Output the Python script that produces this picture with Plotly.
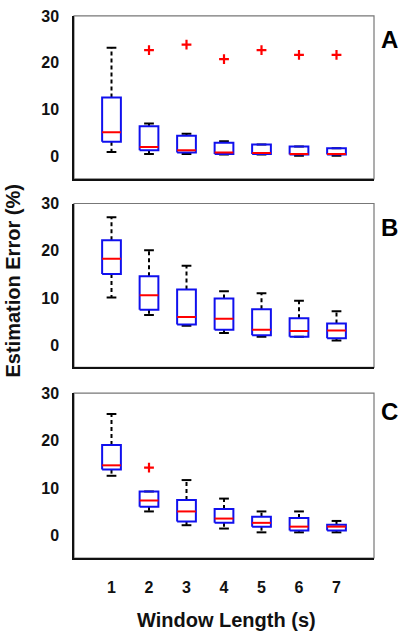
import plotly.graph_objects as go

# ---------------- data ----------------
window_length = [1, 2, 3, 4, 5, 6, 7]
x_tick_labels = ["1", "2", "3", "4", "5", "6", "7"]
y_ticks = [0, 10, 20, 30]
panel_labels = ["A", "B", "C"]

# Panel A
a_lower = [1.0, 0.6, 0.6, 0.5, 0.5, 0.2, 0.2]
a_q1 = [3.2, 1.4, 0.9, 0.6, 0.6, 0.5, 0.5]
a_median = [5.2, 2.1, 1.4, 0.9, 0.8, 0.6, 0.6]
a_q3 = [12.6, 6.5, 4.5, 3.0, 2.6, 2.2, 1.8]
a_upper = [23.2, 7.1, 4.9, 3.3, 2.6, 2.2, 1.8]
a_out_x = [2, 3, 4, 5, 6, 7]
a_out_y = [22.7, 23.9, 20.8, 22.7, 21.7, 21.7]

# Panel B
b_lower = [10.1, 6.4, 4.1, 2.6, 1.8, 1.8, 1.0]
b_q1 = [15.1, 7.5, 4.4, 3.3, 2.1, 1.8, 1.5]
b_median = [18.3, 10.6, 6.0, 5.6, 3.3, 3.0, 3.1]
b_q3 = [22.2, 14.6, 11.8, 9.9, 7.6, 5.7, 4.6]
b_upper = [27.1, 20.1, 16.8, 11.4, 11.0, 9.4, 7.2]
b_out_x = []
b_out_y = []

# Panel C
c_lower = [12.6, 5.1, 2.2, 1.5, 0.7, 0.7, 0.7]
c_q1 = [13.9, 6.1, 3.0, 2.7, 1.9, 1.1, 1.1]
c_median = [14.8, 7.4, 5.1, 3.6, 2.7, 1.9, 1.9]
c_q3 = [19.1, 9.3, 7.5, 5.6, 4.0, 3.7, 2.3]
c_upper = [25.6, 9.3, 11.7, 7.8, 5.1, 5.1, 3.1]
c_out_x = [2]
c_out_y = [14.3]

panels = [
    (a_lower, a_q1, a_median, a_q3, a_upper, a_out_x, a_out_y),
    (b_lower, b_q1, b_median, b_q3, b_upper, b_out_x, b_out_y),
    (c_lower, c_q1, c_median, c_q3, c_upper, c_out_x, c_out_y),
]

# ---------------- style ----------------
W, H = 404, 637
HALF_BOX = 0.25
HALF_CAP = 0.13
BLUE = "#1010ee"
RED = "#ff0000"
FONT = "Liberation Sans, Arial, sans-serif"
domains_px = [(8, 173), (198, 364), (390, 557)]  # top, bottom in px
domains = [[1 - b / H, 1 - t / H] for t, b in domains_px]

fig = go.Figure()

for p, (lo, q1, med, q3, up, ox, oy) in enumerate(panels):
    xa = "x" if p == 0 else f"x{p+1}"
    ya = "y" if p == 0 else f"y{p+1}"
    wx, wy, cx, cy, bx, by, mx, my = [], [], [], [], [], [], [], []
    for i, xv in enumerate(window_length):
        if up[i] > q3[i]:
            wx += [xv, xv, None]
            wy += [q3[i], up[i], None]
        if lo[i] < q1[i]:
            wx += [xv, xv, None]
            wy += [q1[i], lo[i], None]
        cx += [xv - HALF_CAP, xv + HALF_CAP, None, xv - HALF_CAP, xv + HALF_CAP, None]
        cy += [up[i], up[i], None, lo[i], lo[i], None]
        bx += [xv - HALF_BOX, xv + HALF_BOX, xv + HALF_BOX, xv - HALF_BOX, xv - HALF_BOX, None]
        by += [q1[i], q1[i], q3[i], q3[i], q1[i], None]
        mx += [xv - HALF_BOX, xv + HALF_BOX, None]
        my += [med[i], med[i], None]
    fig.add_trace(go.Scatter(x=wx, y=wy, mode="lines", xaxis=xa, yaxis=ya,
                             line=dict(color="black", width=2, dash="4px,3px"),
                             showlegend=False, hoverinfo="skip"))
    fig.add_trace(go.Scatter(x=cx, y=cy, mode="lines", xaxis=xa, yaxis=ya,
                             line=dict(color="black", width=2),
                             showlegend=False, hoverinfo="skip"))
    fig.add_trace(go.Scatter(x=bx, y=by, mode="lines", xaxis=xa, yaxis=ya,
                             line=dict(color=BLUE, width=2),
                             showlegend=False, hoverinfo="skip"))
    fig.add_trace(go.Scatter(x=mx, y=my, mode="lines", xaxis=xa, yaxis=ya,
                             line=dict(color=RED, width=2),
                             showlegend=False, hoverinfo="skip"))
    if ox:
        fig.add_trace(go.Scatter(x=ox, y=oy, mode="markers", xaxis=xa, yaxis=ya,
                                 marker=dict(symbol="cross-thin", size=7,
                                             line=dict(color=RED, width=2.2)),
                                 showlegend=False, hoverinfo="skip"))

    axis_font = dict(family=FONT, size=16, color="#111", weight="bold")
    xaxis = dict(domain=[0, 1], range=[0, 8], tickvals=window_length,
                 ticktext=x_tick_labels, showticklabels=(p == 2),
                 showgrid=False, zeroline=False, showline=True,
                 linecolor="#111", linewidth=1.5, mirror=False,
                 ticks="outside", ticklen=14, tickcolor="rgba(0,0,0,0)",
                 tickfont=axis_font, anchor=ya)
    yaxis = dict(domain=domains[p], range=[-4.7, 30], tickvals=y_ticks,
                 showgrid=False, zeroline=False, showline=True,
                 linecolor="#111", linewidth=1.5,
                 ticks="outside", ticklen=10, tickcolor="rgba(0,0,0,0)",
                 tickfont=axis_font, anchor=xa)
    fig.update_layout(**{("xaxis" if p == 0 else f"xaxis{p+1}"): xaxis,
                         ("yaxis" if p == 0 else f"yaxis{p+1}"): yaxis})
    fig.add_shape(type="rect", xref=f"{xa} domain", yref=f"{ya} domain",
                  x0=0, x1=1, y0=0, y1=1, line=dict(color="#777", width=1.2),
                  layer="below")
    fig.add_annotation(text=panel_labels[p], xref="paper", yref="paper",
                       x=(390 - 74) / 300, y=1 - [32, 222, 409][p] / H,
                       showarrow=False, xanchor="center", yanchor="middle",
                       font=dict(family=FONT, size=24, color="black", weight="bold"))

title_font = dict(family=FONT, size=20, color="#111", weight="bold")
fig.add_annotation(text="Estimation Error (%)", xref="paper", yref="paper",
                   x=(13 - 74) / 300, y=1 - 277 / H, textangle=-90,
                   showarrow=False, xanchor="center", yanchor="middle", font=title_font)
fig.add_annotation(text="Window Length (s)", xref="paper", yref="paper",
                   x=(226 - 74) / 300, y=1 - 620 / H,
                   showarrow=False, xanchor="center", yanchor="middle", font=title_font)

fig.update_layout(width=W, height=H, margin=dict(l=74, r=30, t=0, b=0),
                  plot_bgcolor="white", paper_bgcolor="white")

fig.write_html("out.html", config={"displayModeBar": False},
               post_script="document.body.style.margin='0';document.body.style.overflow='hidden';")
